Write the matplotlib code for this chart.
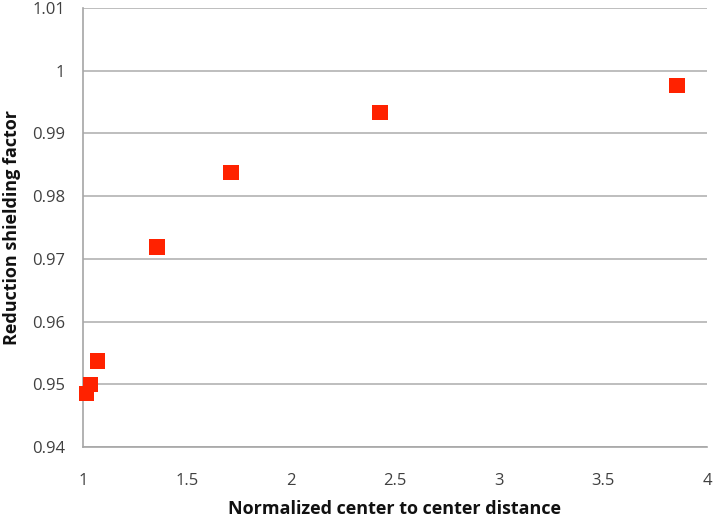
import matplotlib
matplotlib.use("Agg")
import matplotlib.pyplot as plt

# data
distance = [1.018, 1.037, 1.071, 1.356, 1.712, 2.428, 3.856]
shielding = [0.9485, 0.9500, 0.9537, 0.9719, 0.9838, 0.9934, 0.9977]

x_ticks = [1, 1.5, 2, 2.5, 3, 3.5, 4]
x_labels = ["1", "1.5", "2", "2.5", "3", "3.5", "4"]
y_ticks = [0.94, 0.95, 0.96, 0.97, 0.98, 0.99, 1.0, 1.01]
y_labels = ["0.94", "0.95", "0.96", "0.97", "0.98", "0.99", "1", "1.01"]

plt.rcParams['font.family'] = ['Open Sans', 'DejaVu Sans']

fig = plt.figure(figsize=(7.14, 5.21), dpi=100)
ax = fig.add_axes([0.1162, 0.142, 0.874, 0.8426])

ax.scatter(distance, shielding, marker='s', s=120, color='#ff2200',
           edgecolors='none', zorder=3, clip_on=False)

ax.set_xlim(1, 4)
ax.set_ylim(0.94, 1.01)
ax.set_xticks(x_ticks)
ax.set_xticklabels(x_labels)
ax.set_yticks(y_ticks)
ax.set_yticklabels(y_labels)

ax.yaxis.grid(True, color='#b3b3b3', linewidth=1.2)
ax.set_axisbelow(True)
for side in ['top', 'right']:
    ax.spines[side].set_visible(False)
for side in ['left', 'bottom']:
    ax.spines[side].set_color('#a6a6a6')
    ax.spines[side].set_linewidth(1.2)

ax.tick_params(axis='both', length=0, labelsize=12, colors='#404040')
ax.tick_params(axis='y', pad=13)
ax.tick_params(axis='x', pad=19)

ax.set_xlabel("Normalized center to center distance", fontsize=13,
              fontweight='bold', color='#111111')
ax.set_ylabel("Reduction shielding factor", fontsize=13,
              fontweight='bold', color='#111111')
ax.xaxis.set_label_coords(0.5, -0.141)
ax.yaxis.set_label_coords(-0.114, 0.5)
ax.xaxis.label.set_va('center')
ax.yaxis.label.set_va('center')

fig.savefig("out.png", dpi=100)
